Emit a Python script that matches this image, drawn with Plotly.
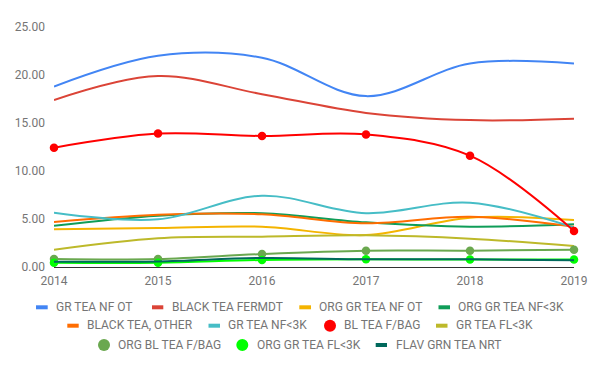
import plotly.graph_objects as go

years = [2014, 2015, 2016, 2017, 2018, 2019]

gr_tea_nf_ot = [18.8, 22.0, 21.8, 17.8, 21.2, 21.2]
black_tea_fermdt = [17.4, 19.9, 18.0, 16.05, 15.3, 15.45]
org_gr_tea_nf_ot = [3.92, 4.06, 4.2, 3.33, 5.14, 4.9]
org_gr_tea_nf_3k = [4.3, 5.35, 5.6, 4.65, 4.2, 4.45]
black_tea_other = [4.69, 5.45, 5.5, 4.55, 5.24, 4.2]
gr_tea_nf_3k = [5.65, 4.97, 7.43, 5.6, 6.7, 4.1]
bl_tea_fbag = [12.43, 13.9, 13.65, 13.8, 11.6, 3.75]
gr_tea_fl_3k = [1.8, 2.99, 3.16, 3.3, 2.95, 2.19]
org_bl_tea_fbag = [0.83, 0.83, 1.35, 1.7, 1.7, 1.8]
org_gr_tea_fl_3k = [0.45, 0.45, 0.73, 0.8, 0.77, 0.77]
flav_grn_tea_nrt = [0.55, 0.58, 0.94, 0.8, 0.8, 0.7]

y_ticks = [0, 5, 10, 15, 20, 25]

series = [
    ("GR TEA NF OT", gr_tea_nf_ot, "#4285F4", False),
    ("BLACK TEA FERMDT", black_tea_fermdt, "#DB4437", False),
    ("ORG GR TEA NF OT", org_gr_tea_nf_ot, "#F4B400", False),
    ("ORG GR TEA NF<3K", org_gr_tea_nf_3k, "#0F9D58", False),
    ("BLACK TEA, OTHER", black_tea_other, "#FF6D01", False),
    ("GR TEA NF<3K", gr_tea_nf_3k, "#46BDC6", False),
    ("BL TEA F/BAG", bl_tea_fbag, "#FF0000", True),
    ("GR TEA FL<3K", gr_tea_fl_3k, "#BDB92A", False),
    ("ORG BL TEA F/BAG", org_bl_tea_fbag, "#6AA84F", True),
    ("ORG GR TEA FL<3K", org_gr_tea_fl_3k, "#00FF00", True),
    ("FLAV GRN TEA NRT", flav_grn_tea_nrt, "#00695C", False),
]

# legend layout (pixel positions): name -> (symbol_left, symbol_right, text_x, row_y)
legend_layout = {
    "GR TEA NF OT": (36, 47.7, 56, 307.3),
    "BLACK TEA FERMDT": (152, 163.3, 172.3, 307.3),
    "ORG GR TEA NF OT": (299.3, 311, 319.3, 307.3),
    "ORG GR TEA NF<3K": (438.5, 450, 458.3, 307.3),
    "BLACK TEA, OTHER": (67.3, 78.7, 87.3, 325.7),
    "GR TEA NF<3K": (208.5, 220, 228.3, 325.7),
    "BL TEA F/BAG": (324, 336, 344.3, 325.7),
    "GR TEA FL<3K": (436, 447.5, 456, 325.7),
    "ORG BL TEA F/BAG": (98, 110, 118.3, 345),
    "ORG GR TEA FL<3K": (236.3, 248.3, 256.7, 345),
    "FLAV GRN TEA NRT": (375.7, 387, 395.5, 345),
}

W, H = 600, 371
ML, MR, MT, MB = 54, 26, 27, 104
PW = W - ML - MR
PH = H - MT - MB


def px(x):
    return (x - ML) / PW


def py(y):
    return (H - MB - y) / PH


fig = go.Figure()
for name, vals, color, has_markers in series:
    fig.add_trace(go.Scatter(
        x=years, y=vals, name=name,
        mode="lines+markers" if has_markers else "lines",
        line=dict(color=color, width=2, shape="spline", smoothing=1),
        marker=dict(color=color, size=8.5),
        cliponaxis=False,
        showlegend=False,
    ))

shapes = []
annotations = []
for name, vals, color, has_markers in series:
    x0, x1, tx, ry = legend_layout[name]
    if has_markers:
        r = (x1 - x0) / 2
        shapes.append(dict(type="circle", xref="paper", yref="paper",
                           x0=px(x0), x1=px(x1), y0=py(ry + r), y1=py(ry - r),
                           fillcolor=color, line=dict(width=0)))
    else:
        shapes.append(dict(type="rect", xref="paper", yref="paper",
                           x0=px(x0), x1=px(x1), y0=py(ry + 2), y1=py(ry - 2),
                           fillcolor=color, line=dict(width=0)))
    annotations.append(dict(text=name, xref="paper", yref="paper",
                            x=px(tx - 2), y=py(ry - 0.5), xanchor="left", yanchor="middle",
                            showarrow=False,
                            font=dict(family="Roboto", size=12, color="#757575")))

fig.update_layout(
    width=W, height=H,
    margin=dict(l=ML, r=MR, t=MT, b=MB),
    paper_bgcolor="white", plot_bgcolor="white",
    font=dict(family="Roboto", size=12, color="#757575"),
    showlegend=False,
    shapes=shapes,
    annotations=annotations,
    xaxis=dict(range=[2014, 2019], tickvals=years, ticktext=[str(y) for y in years],
               showgrid=False, zeroline=False, showline=True, linecolor="#333333",
               linewidth=1, ticks="", ticklabelstandoff=3, fixedrange=True),
    yaxis=dict(range=[0, 25], tickvals=y_ticks, tickformat=".2f",
               showgrid=False, zeroline=False, showline=False, ticks="",
               ticklabelstandoff=8, fixedrange=True),
)

fig.write_html("out.html", config={"displayModeBar": False},
               post_script="document.body.style.margin='0';document.body.style.padding='0';")
